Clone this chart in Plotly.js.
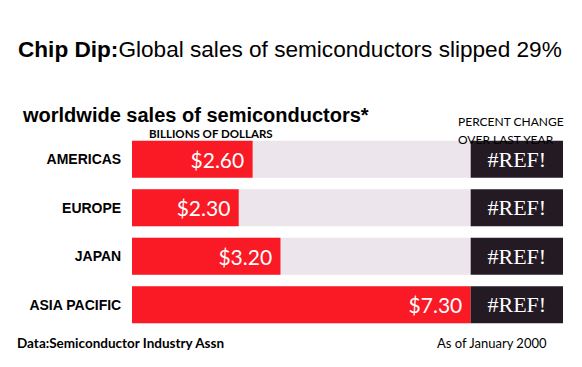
<!DOCTYPE html>
<html>
<head>
<meta charset="utf-8">
<script src="https://cdn.plot.ly/plotly-3.0.1.min.js"></script>
<style>
  html, body { margin: 0; padding: 0; background: #ffffff; }
  #chart { width: 582px; height: 367px; }
</style>
</head>
<body>
<div id="chart"></div>
<script>
// ---- data ----
const regions = ['AMERICAS', 'EUROPE', 'JAPAN', 'ASIA PACIFIC'];
const sales = [2.60, 2.30, 3.20, 7.30];            // billions of dollars
const pctChange = ['#REF!', '#REF!', '#REF!', '#REF!'];

// ---- layout constants ----
const W = 582, H = 367;
const M = { l: 132, r: 19, t: 135, b: 38 };
const X_MAX = 9.29;
const plotW = W - M.l - M.r, plotH = H - M.t - M.b;
const px = x => (x - M.l) / plotW;
const py = y => (H - M.b - y) / plotH;

const maxSale = Math.max(...sales);
const bgX = regions.map(() => maxSale);
const boxBase = regions.map(() => maxSale);
const boxX = regions.map(() => X_MAX - maxSale);

const RED = '#F91A26', GREY = '#ECE5EC', DARK = '#231A24';
const SANS = 'Liberation Sans, Arial, sans-serif';
const CAL = 'Lato, Open Sans, sans-serif';
const SERIF = 'Liberation Serif, Times New Roman, serif';

const traces = [
  { type: 'bar', orientation: 'h', y: regions, x: bgX, width: 0.76,
    marker: { color: GREY }, hoverinfo: 'skip', showlegend: false },
  { type: 'bar', orientation: 'h', y: regions, x: sales, width: 0.76,
    marker: { color: RED }, texttemplate: '$%{x:.2f}\u00a0',
    textposition: 'inside', insidetextanchor: 'end', constraintext: 'none',
    textfont: { family: CAL, size: 21, color: '#ffffff' },
    hoverinfo: 'skip', showlegend: false },
  { type: 'bar', orientation: 'h', y: regions, x: boxX, base: boxBase, width: 0.76,
    marker: { color: DARK }, text: pctChange, texttemplate: '%{text}',
    textposition: 'inside', insidetextanchor: 'middle', constraintext: 'none',
    textfont: { family: SERIF, size: 22, color: '#ffffff' },
    hoverinfo: 'skip', showlegend: false }
];

const ann = (x, y, text, font, xanchor) => ({
  xref: 'paper', yref: 'paper', x: px(x), y: py(y), text: text,
  xanchor: xanchor || 'left', yanchor: 'middle', showarrow: false, font: font
});

const layout = {
  width: W, height: H, margin: M,
  paper_bgcolor: '#ffffff', plot_bgcolor: '#ffffff',
  barmode: 'overlay', showlegend: false,
  xaxis: { range: [0, X_MAX], visible: false, fixedrange: true },
  yaxis: {
    type: 'category', autorange: 'reversed', range: [3.5, -0.5],
    showgrid: false, zeroline: false, showline: false,
    ticks: 'outside', ticklen: 7, tickcolor: 'rgba(0,0,0,0)',
    tickfont: { family: SANS, size: 14, color: '#000000', weight: 'bold' },
    fixedrange: true
  },
  annotations: [
    ann(16, 49, '<b>Chip Dip:</b>Global sales of semiconductors slipped 29%',
        { family: SANS, size: 22.6, color: '#000000' }),
    ann(20, 115, '<b>worldwide sales of semiconductors*</b>',
        { family: SANS, size: 20, color: '#000000' }),
    ann(211, 133, '<b>BILLIONS OF DOLLARS</b>',
        { family: CAL, size: 11.5, color: '#000000' }, 'center'),
    ann(456, 121, 'PERCENT CHANGE', { family: CAL, size: 12, color: '#000000' }),
    ann(456, 139, 'OVER LAST YEAR', { family: CAL, size: 12, color: '#000000' }),
    ann(15, 343, '<b>Data:Semiconductor Industry Assn</b>',
        { family: CAL, size: 13.5, color: '#000000' }),
    ann(435, 343, 'As of January 2000', { family: CAL, size: 13, color: '#000000' })
  ]
};

Plotly.newPlot('chart', traces, layout, { displayModeBar: false, staticPlot: true });
</script>
</body>
</html>
